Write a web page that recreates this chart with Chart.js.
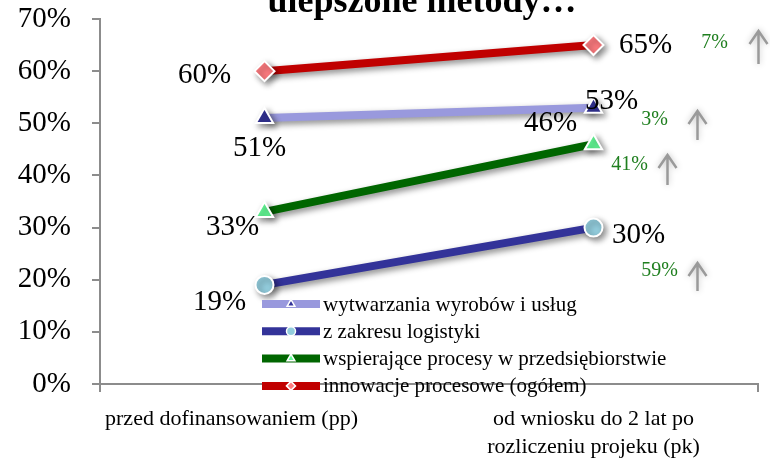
<!DOCTYPE html>
<html>
<head>
<meta charset="utf-8">
<script src="https://cdn.jsdelivr.net/npm/chart.js@4.4.0/dist/chart.umd.min.js"></script>
<style>
  html, body { margin: 0; padding: 0; background: #fff; }
  #wrap { width: 770px; height: 465px; }
</style>
</head>
<body>
<div id="wrap"><canvas id="chart"></canvas></div>
<script>
// dane (%)
var chartTitle = 'ulepszone metody…';
var categories = ['przed dofinansowaniem (pp)', ['od wniosku do 2 lat po', 'rozliczeniu projeku (pk)']];
var seriesNames = ['wytwarzania wyrobów i usług', 'z zakresu logistyki', 'wspierające procesy w przedsiębiorstwie', 'innowacje procesowe (ogółem)'];
var wytwarzania = [51, 53];
var logistyki = [19, 30];
var wspierajace = [33, 46];
var innowacje = [60, 65];
var growthLabels = ['3%', '59%', '41%', '7%'];
var growthAt = [50.6, 21.7, 42.1, 65.4];   // wysokość adnotacji na osi Y
var yTicks = [0, 10, 20, 30, 40, 50, 60, 70];

var serif = "'Liberation Serif', 'Times New Roman', serif";

// przesunięcia etykiet danych względem punktu [pp, pk]
var labelOffsets = [
  [[-5, 30], [18, -6]],
  [[-45, 17], [45, 8]],
  [[-32, 15], [-43, -21]],
  [[-60, 4], [52, 0]]
];
// adnotacje: przesunięcie tekstu i strzałki względem punktu pk
var growthPos = [
  { tx: 61, ax: 104, top: 111, bot: 140 },
  { tx: 66, ax: 104, top: 263, bot: 291 },
  { tx: 36, ax: 74, top: 155, bot: 185 },
  { tx: 121, ax: 165, top: 31, bot: 64 }
];

function ds(label, data, line, fill, style) {
  return {
    label: label, data: data,
    borderColor: line, borderWidth: 8,
    pointStyle: style, pointRadius: style === 'circle' ? 9 : 10,
    pointBackgroundColor: fill, pointBorderColor: '#fff', pointBorderWidth: 2,
    pointHoverRadius: 10, tension: 0
  };
}

var shadowPlugin = {
  id: 'shadow',
  beforeDatasetDraw: function (chart) {
    var c = chart.ctx;
    c.save();
    c.shadowColor = 'rgba(0,0,0,0.45)';
    c.shadowBlur = 6;
    c.shadowOffsetX = 3;
    c.shadowOffsetY = 3;
  },
  afterDatasetDraw: function (chart) { chart.ctx.restore(); }
};

var labelsPlugin = {
  id: 'valueLabels',
  afterDatasetsDraw: function (chart) {
    var c = chart.ctx;
    c.save();
    c.font = '29px ' + serif;
    c.fillStyle = '#000';
    c.textAlign = 'center';
    c.textBaseline = 'middle';
    chart.data.datasets.forEach(function (d, i) {
      chart.getDatasetMeta(i).data.forEach(function (pt, j) {
        var o = labelOffsets[i][j];
        c.fillText(d.data[j] + '%', pt.x + o[0], pt.y + o[1]);
      });
    });
    // adnotacje wzrostu
    var x = chart.scales.x.getPixelForValue(1);
    var y = chart.scales.y;
    growthLabels.forEach(function (t, k) {
      var p = growthPos[k];
      c.font = '20px ' + serif;
      c.fillStyle = '#1f7f1f';
      c.fillText(t, x + p.tx, y.getPixelForValue(growthAt[k]));
      c.save();
      c.strokeStyle = '#9a9a9a';
      c.lineWidth = 2.5;
      c.shadowColor = 'rgba(0,0,0,0.25)';
      c.shadowBlur = 6;
      var ax = x + p.ax;
      c.beginPath();
      c.moveTo(ax, p.bot); c.lineTo(ax, p.top);
      c.moveTo(ax - 9, p.top + 13); c.lineTo(ax, p.top); c.lineTo(ax + 9, p.top + 13);
      c.stroke();
      c.restore();
    });
    c.restore();
  }
};

var legendPlugin = {
  id: 'innerLegend',
  afterDraw: function (chart) {
    var c = chart.ctx;
    var x0 = 262, x1 = 320, y0 = 304, step = 27.3;
    c.save();
    // tytuł (ucięty u góry jak w oryginale)
    c.font = 'bold 36px ' + serif;
    c.fillStyle = '#000';
    c.textAlign = 'center';
    c.textBaseline = 'alphabetic';
    c.fillText(chartTitle, 422, 12);
    chart.data.datasets.forEach(function (d, i) {
      var yy = y0 + i * step;
      c.strokeStyle = d.borderColor;
      c.lineWidth = 8;
      c.lineCap = 'butt';
      c.beginPath(); c.moveTo(x0, yy); c.lineTo(x1, yy); c.stroke();
      c.fillStyle = d.pointBackgroundColor;
      c.strokeStyle = '#fff';
      c.lineWidth = 1.5;
      Chart.helpers.drawPoint(c, {
        pointStyle: d.pointStyle, radius: 4.5, borderWidth: 1.5
      }, (x0 + x1) / 2, yy);
      c.font = '21px ' + serif;
      c.fillStyle = '#000';
      c.textAlign = 'left';
      c.textBaseline = 'middle';
      c.fillText(d.label, x1 + 3, yy + 1);
    });
    c.restore();
  }
};

new Chart(document.getElementById('chart'), {
  type: 'line',
  data: {
    labels: categories,
    datasets: [
      ds(seriesNames[0], wytwarzania, '#9999DD', '#333399', 'triangle'),
      ds(seriesNames[1], logistyki, '#333399', '#93CDDD', 'circle'),
      ds(seriesNames[2], wspierajace, '#006600', '#66FF99', 'triangle'),
      ds(seriesNames[3], innowacje, '#C00000', '#FF7C80', 'rectRot')
    ]
  },
  plugins: [shadowPlugin, labelsPlugin, legendPlugin],
  options: {
    responsive: true,
    maintainAspectRatio: false,
    animation: false,
    layout: { padding: { right: 8 } },
    plugins: {
      legend: { display: false },
      tooltip: { enabled: false },
      title: { display: false }
    },
    scales: {
      x: {
        offset: true,
        grid: { display: true, drawOnChartArea: false, offset: true, tickLength: 8, color: '#8c8c8c', lineWidth: 2 },
        border: { color: '#8c8c8c', width: 2 },
        ticks: {
          color: '#000', padding: 13, maxRotation: 0, autoSkip: false,
          font: { family: serif, size: 22, lineHeight: 1.27 },
          callback: function (v, i) {
            var l = categories[i];
            return i === 0 ? l + '\u00A0'.repeat(12) : l;
          }
        },
        afterFit: function (s) { s.height = 81; }
      },
      y: {
        min: 0, max: 70,
        afterBuildTicks: function (s) { s.ticks = yTicks.map(function (v) { return { value: v }; }); },
        grid: { display: true, drawOnChartArea: false, tickLength: 8, color: '#8c8c8c', lineWidth: 2 },
        border: { color: '#8c8c8c', width: 2 },
        ticks: {
          color: '#000', padding: 21,
          font: { family: serif, size: 29 },
          callback: function (v) { return v + '%'; }
        },
        afterFit: function (s) { s.width = 100; s.paddingTop = 19; s.paddingBottom = 0; }
      }
    }
  }
});
</script>
</body>
</html>
